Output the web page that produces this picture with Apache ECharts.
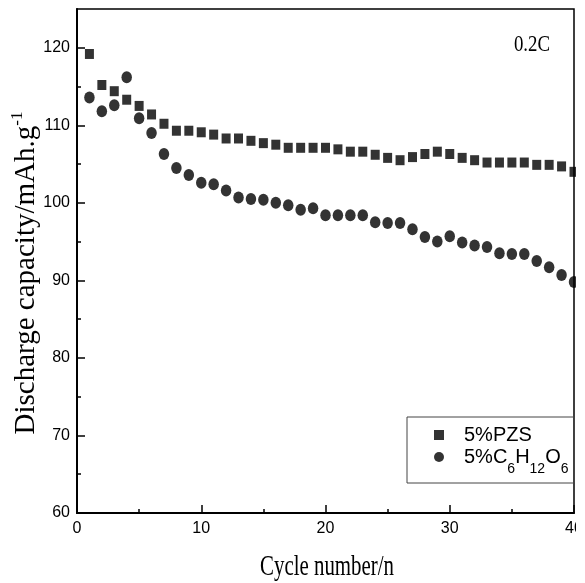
<!DOCTYPE html>
<html><head><meta charset="utf-8">
<script src="https://cdn.jsdelivr.net/npm/echarts@6/dist/echarts.min.js"></script>
<style>html,body{margin:0;padding:0;background:#fff}#c{width:585px;height:583px}</style>
</head><body><div id="c"></div>
<script>
const cycles = [1,2,3,4,5,6,7,8,9,10,11,12,13,14,15,16,17,18,19,20,21,22,23,24,25,26,27,28,29,30,31,32,33,34,35,36,37,38,39,40];
const pzs = [119.2,115.2,114.4,113.3,112.5,111.4,110.2,109.3,109.3,109.1,108.8,108.3,108.3,108.0,107.7,107.5,107.1,107.1,107.1,107.1,106.9,106.6,106.6,106.2,105.8,105.5,105.9,106.3,106.6,106.3,105.8,105.5,105.2,105.2,105.2,105.2,104.9,104.9,104.7,104.0];
const glucose = [113.6,111.8,112.6,116.2,110.9,109.0,106.3,104.5,103.6,102.6,102.4,101.6,100.7,100.5,100.4,100.0,99.7,99.1,99.3,98.4,98.4,98.4,98.4,97.5,97.4,97.4,96.6,95.6,95.0,95.7,94.9,94.5,94.3,93.5,93.4,93.4,92.5,91.7,90.7,89.8];
const seriesNames = ['5%PZS', '5%C6H12O6'];
const xTickLabels = [0, 10, 20, 30, 40];
const yTickLabels = [60, 70, 80, 90, 100, 110, 120];
const yMinorTicks = [65, 75, 85, 95, 105, 115];

const SANS = "'Liberation Sans', Arial, sans-serif";
const SERIF = "'Liberation Serif', 'Times New Roman', serif";
const chart = echarts.init(document.getElementById('c'));
const pair = (ys) => cycles.map((c, i) => [c, ys[i]]);
const tickStyle = {color: '#000', width: 1.5};

chart.setOption({
  animation: false,
  backgroundColor: '#fff',
  grid: {left: 77, right: 11, top: 9, bottom: 70, containLabel: false, outerBoundsMode: 'none',
    show: true, borderColor: '#000', borderWidth: 1.5, backgroundColor: 'transparent'},
  xAxis: [{
    type: 'value', min: 0, max: 40, interval: 10, position: 'bottom',
    axisLine: {lineStyle: {color: '#000', width: 2}},
    axisTick: {inside: true, length: 8, lineStyle: tickStyle, customValues: xTickLabels},
    minorTick: {show: true, splitNumber: 2, length: 4, lineStyle: tickStyle},
    splitLine: {show: false}, minorSplitLine: {show: false},
    axisLabel: {color: '#000', fontFamily: SANS, fontSize: 16, margin: 8, customValues: xTickLabels}
  }],
  yAxis: [{
    type: 'value', min: 60, max: 125, position: 'left',
    axisLine: {lineStyle: {color: '#000', width: 2}},
    axisTick: {inside: true, length: 8, lineStyle: tickStyle, customValues: yTickLabels},
    splitLine: {show: false},
    axisLabel: {color: '#000', fontFamily: SANS, fontSize: 16, margin: 7, customValues: yTickLabels},
    name: 'Discharge capacity/mAh.g{sup|-1}',
    nameLocation: 'middle', nameRotate: 90, nameGap: 34, nameMoveOverlap: false,
    nameTextStyle: {color: '#000', fontFamily: SERIF, fontSize: 29, lineHeight: 34, padding: [0, 24, 0, 0],
      rich: {sup: {color: '#000', fontFamily: SERIF, fontSize: 17, lineHeight: 17, verticalAlign: 'top'}}}
  }, {
    type: 'value', min: 60, max: 125, position: 'left',
    axisLine: {show: false},
    axisTick: {inside: true, length: 4, lineStyle: tickStyle, customValues: yMinorTicks},
    axisLabel: {show: false}, splitLine: {show: false}
  }],
  legend: {
    orient: 'vertical', left: 407, top: 417, padding: [7, 6, 7, 27], itemGap: 0,
    itemWidth: 10, itemHeight: 10, borderColor: '#444', borderWidth: 1,
    data: seriesNames,
    formatter: (n) => n === '5%C6H12O6' ? '5%C{sub|6}H{sub|12}O{sub|6}' : n,
    textStyle: {color: '#000', fontFamily: SANS, fontSize: 20, lineHeight: 22, padding: [0, 0, 0, 15],
      rich: {sub: {color: '#000', fontFamily: SANS, fontSize: 14, lineHeight: 15, padding: [16, 0, 0, 0], verticalAlign: 'top'}}}
  },
  series: [
    {name: seriesNames[0], type: 'scatter', data: pair(pzs), symbol: 'rect', symbolSize: [9, 10], itemStyle: {color: '#000'}, xAxisIndex: 0, yAxisIndex: 0},
    {name: seriesNames[1], type: 'scatter', data: pair(glucose), symbol: 'circle', symbolSize: [10.5, 12], itemStyle: {color: '#000'}, xAxisIndex: 0, yAxisIndex: 0}
  ],
  graphic: [
    {type: 'rect', z: 100, shape: {x: 576, y: 0, width: 9, height: 583}, style: {fill: '#fff'}},
    {type: 'text', z: 100, x: 327, y: 567, scaleX: 0.72, style: {text: 'Cycle number/n', fontFamily: SERIF, fontSize: 29, fill: '#000', align: 'center', verticalAlign: 'middle'}},
    {type: 'text', z: 100, x: 532, y: 45, scaleX: 0.82, style: {text: '0.2C', fontFamily: SERIF, fontSize: 23, fill: '#000', align: 'center', verticalAlign: 'middle'}}
  ]
});
</script></body></html>
